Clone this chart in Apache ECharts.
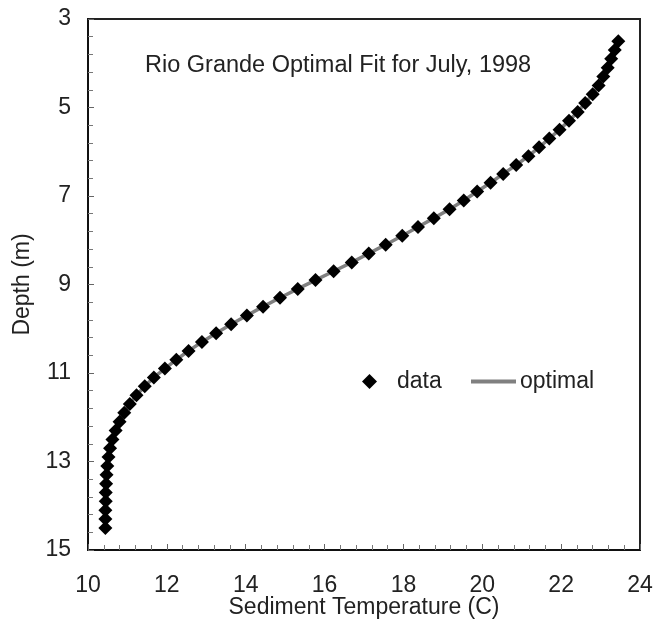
<!DOCTYPE html>
<html>
<head>
<meta charset="UTF-8">
<title>Rio Grande Optimal Fit</title>
<script src="https://cdn.jsdelivr.net/npm/echarts@6/dist/echarts.min.js"></script>
<style>
  html, body { margin: 0; padding: 0; background: #fff; }
  #main { width: 659px; height: 619px; }
</style>
</head>
<body>
<div id="main"></div>
<script>
// depth (m) of each measurement, 0.2 m apart
var depths = [3.5, 3.7, 3.9, 4.1, 4.3, 4.5, 4.7, 4.9, 5.1, 5.3, 5.5, 5.7, 5.9, 6.1, 6.3, 6.5, 6.7, 6.9,
  7.1, 7.3, 7.5, 7.7, 7.9, 8.1, 8.3, 8.5, 8.7, 8.9, 9.1, 9.3, 9.5, 9.7, 9.9, 10.1, 10.3, 10.5,
  10.7, 10.9, 11.1, 11.3, 11.5, 11.7, 11.9, 12.1, 12.3, 12.5, 12.7, 12.9, 13.1, 13.3, 13.5,
  13.7, 13.9, 14.1, 14.3, 14.5];
// measured sediment temperature (C)
var dataTemp = [23.45, 23.36, 23.27, 23.18, 23.07, 22.95, 22.80, 22.61, 22.42, 22.20, 21.96, 21.70,
  21.44, 21.17, 20.86, 20.53, 20.21, 19.87, 19.53, 19.17, 18.77, 18.37, 17.97, 17.55, 17.12,
  16.69, 16.23, 15.77, 15.32, 14.87, 14.44, 14.03, 13.63, 13.25, 12.89, 12.55, 12.24, 11.95,
  11.67, 11.44, 11.23, 11.06, 10.92, 10.80, 10.70, 10.62, 10.56, 10.52, 10.49, 10.47, 10.46,
  10.45, 10.45, 10.44, 10.44, 10.44];
// optimal fit curve (C), same depths
var optimalTemp = [23.45, 23.36, 23.27, 23.18, 23.07, 22.95, 22.80, 22.61, 22.42, 22.20, 21.96, 21.70,
  21.44, 21.17, 20.86, 20.53, 20.21, 19.87, 19.53, 19.17, 18.77, 18.37, 17.97, 17.55, 17.12,
  16.69, 16.23, 15.77, 15.32, 14.87, 14.44, 14.03, 13.63, 13.25, 12.89, 12.55, 12.24, 11.95,
  11.67, 11.44, 11.23, 11.06, 10.92, 10.80, 10.70, 10.62, 10.56, 10.52, 10.49, 10.47, 10.46,
  10.45, 10.45, 10.44, 10.44, 10.44];

var FONT = '"Liberation Sans", Arial, sans-serif';

function pairs(xs, ys) {
  var out = [];
  for (var i = 0; i < ys.length; i++) out.push([xs[i], ys[i]]);
  return out;
}

var myChart = echarts.init(document.getElementById('main'));

var option = {
  backgroundColor: '#fff',
  animation: false,
  textStyle: { fontFamily: FONT, color: '#222' },
  title: {
    text: 'Rio Grande Optimal Fit for July, 1998',
    left: 140, top: 49,
    textStyle: { fontFamily: FONT, fontSize: 23.5, fontWeight: 'normal', color: '#222' }
  },
  legend: [
    {
      data: [{ name: 'data', icon: 'diamond' }],
      left: 357, top: 365,
      itemWidth: 15, itemHeight: 15, itemGap: 0,
      textStyle: { fontFamily: FONT, fontSize: 23, color: '#222', padding: [0, 0, 0, 15] }
    },
    {
      data: [{ name: 'optimal', icon: 'rect' }],
      left: 466, top: 365,
      itemWidth: 45, itemHeight: 4,
      textStyle: { fontFamily: FONT, fontSize: 23, color: '#222', padding: [0, 0, 0, -1] }
    }
  ],
  grid: {
    left: 88, right: 19, top: 19, bottom: 69,
    containLabel: false, outerBoundsMode: 'none',
    show: true, borderColor: '#222', borderWidth: 2
  },
  xAxis: {
    type: 'value', min: 10, max: 24, interval: 2,
    name: 'Sediment Temperature (C)', nameLocation: 'middle', nameGap: 46,
    nameMoveOverlap: false,
    nameTextStyle: { fontFamily: FONT, fontSize: 23, color: '#222' },
    axisLine: { show: true, onZero: false, lineStyle: { color: '#111', width: 2 } },
    axisTick: { show: true, inside: true, length: 6, lineStyle: { color: '#666' } },
    minorTick: { show: true, splitNumber: 5, length: 5, lineStyle: { color: '#777' } },
    axisLabel: { fontFamily: FONT, fontSize: 23, color: '#222', margin: 24 },
    splitLine: { show: false }
  },
  yAxis: {
    type: 'value', min: 3, max: 15, interval: 2, inverse: true,
    name: 'Depth (m)', nameLocation: 'middle', nameGap: 54, nameRotate: 90,
    nameMoveOverlap: false,
    nameTextStyle: { fontFamily: FONT, fontSize: 23, color: '#222' },
    axisLine: { show: true, onZero: false, lineStyle: { color: '#111', width: 2 } },
    axisTick: { show: true, inside: true, length: 6, lineStyle: { color: '#666' } },
    minorTick: { show: true, splitNumber: 5, length: 5, lineStyle: { color: '#777' } },
    axisLabel: { fontFamily: FONT, fontSize: 23, color: '#222', margin: 17 },
    splitLine: { show: false }
  },
  series: [
    {
      name: 'optimal', type: 'line',
      data: pairs(optimalTemp, depths),
      showSymbol: false, symbol: 'none',
      itemStyle: { color: '#808080' },
      lineStyle: { color: '#808080', width: 3.5 },
      z: 2
    },
    {
      name: 'data', type: 'scatter',
      data: pairs(dataTemp, depths),
      symbol: 'diamond', symbolSize: 14,
      itemStyle: { color: '#000', opacity: 1 },
      z: 3
    }
  ]
};

myChart.setOption(option);
</script>
</body>
</html>
